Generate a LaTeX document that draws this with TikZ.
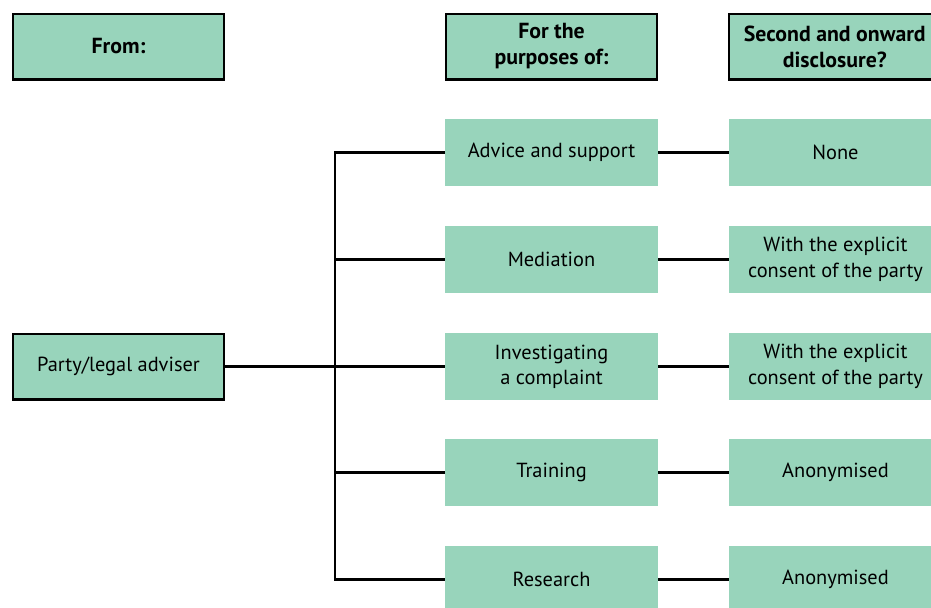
\documentclass[tikz,border=0pt]{standalone}
\usepackage{fontspec}
\setmainfont{PT Sans}
\usepackage{xcolor}
\usepackage{tikz}

\definecolor{boxgreen}{RGB}{152,212,187}

\tikzset{
	cellbox/.style={fill=boxgreen, minimum width=5.325cm, minimum height=1.675cm,
		align=center, inner sep=0pt, font=\fontsize{14.5}{18}\selectfont},
	headbox/.style={cellbox, draw=black, line width=1.7pt, minimum width=5.28cm,
		minimum height=1.64cm, font=\fontsize{15.5}{18.5}\selectfont\bfseries},
	link/.style={line width=1.7pt}
}

\begin{document}
\begin{tikzpicture}[x=0.025cm, y=-0.025cm]
		\useasboundingbox (0,0) rectangle (931,607);
		\clip (0,0) rectangle (931,607);
		% column headings
		\node[headbox] (from) at (118.5,46.5) {From:};
		\node[headbox] (purposehead) at (551.5,46.5) {For the\\purposes of:};
		\node[headbox, minimum width=5.5cm] (disclhead) at (839,46.5) {\hspace*{-6pt}Second and onward\\\hspace*{-6pt}disclosure?};
		% source
		\node[headbox, font=\fontsize{14.5}{18}\selectfont] (party) at (118.5,366.5) {Party/legal adviser};
		% purposes
		\node[cellbox] (advice) at (551.5,152.5) {Advice and support};
		\node[cellbox] (mediation) at (551.5,259.5) {Mediation};
		\node[cellbox] (complaint) at (551.5,366.5) {Investigating\\a complaint};
		\node[cellbox] (training) at (551.5,472.5) {Training};
		\node[cellbox] (research) at (551.5,579.5) {Research};
		% onward disclosure
		\node[cellbox] (none) at (835.5,152.5) {None};
		\node[cellbox] (consenta) at (835.5,259.5) {With the explicit\\consent of the party};
		\node[cellbox] (consentb) at (835.5,366.5) {With the explicit\\consent of the party};
		\node[cellbox] (anona) at (835.5,472.5) {Anonymised};
		\node[cellbox] (anonb) at (835.5,579.5) {Anonymised};
		% connectors
		\coordinate (split) at (335,366.5);
		\draw[link] (party) -- (complaint);
		\draw[link] (advice.west) -| (split) |- (research.west);
		\draw[link] (split |- mediation.west) -- (mediation.west);
		\draw[link] (split |- training.west) -- (training.west);
		\draw[link] (advice) -- (none);
		\draw[link] (mediation) -- (consenta);
		\draw[link] (complaint) -- (consentb);
		\draw[link] (training) -- (anona);
		\draw[link] (research) -- (anonb);
	\end{tikzpicture}
\end{document}
